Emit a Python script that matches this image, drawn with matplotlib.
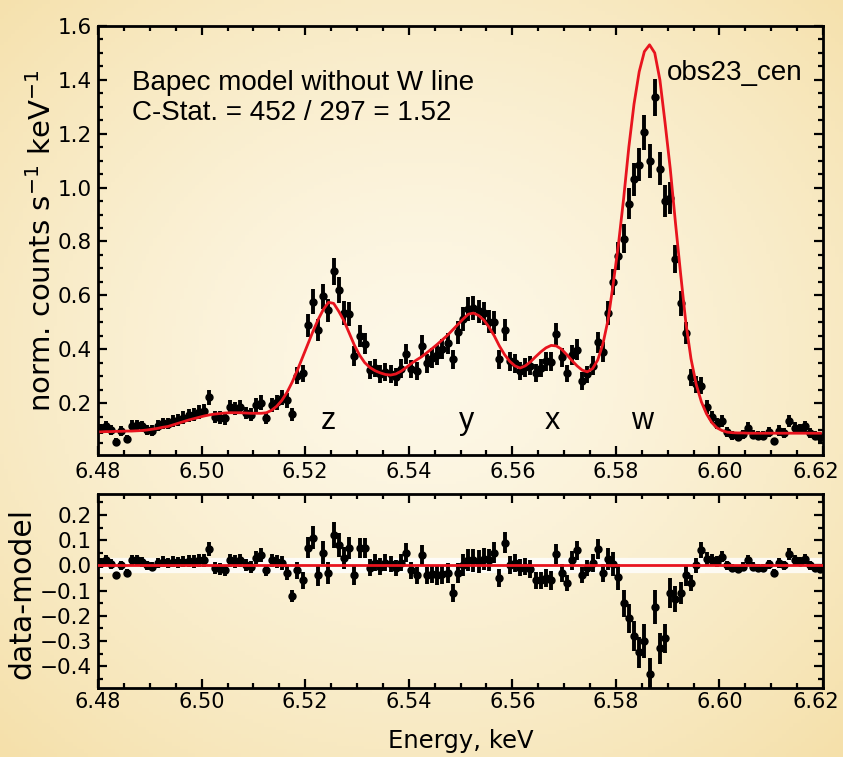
import numpy as np
import matplotlib
matplotlib.use("Agg")
import matplotlib.pyplot as plt
import matplotlib.transforms as mtransforms
from matplotlib.ticker import MultipleLocator

# Energy bin centres (keV), bin width 0.001 keV
energy = np.linspace(6.4805, 6.6195, 140)

# Bapec model (without W line)
model = [0.093, 0.094, 0.094, 0.095, 0.095, 0.096, 0.096, 0.097, 0.098, 0.100,
         0.103, 0.106, 0.110, 0.113, 0.119, 0.125, 0.131, 0.137, 0.142, 0.147,
         0.152, 0.156, 0.159, 0.161, 0.163, 0.164, 0.164, 0.164, 0.163, 0.162,
         0.162, 0.162, 0.164, 0.173, 0.188, 0.210, 0.240, 0.278, 0.322, 0.370,
         0.418, 0.466, 0.510, 0.547, 0.574, 0.570, 0.540, 0.505, 0.460, 0.415,
         0.378, 0.350, 0.332, 0.320, 0.312, 0.306, 0.304, 0.308, 0.318, 0.332,
         0.347, 0.360, 0.372, 0.387, 0.402, 0.418, 0.435, 0.452, 0.472, 0.492,
         0.512, 0.530, 0.534, 0.525, 0.508, 0.482, 0.450, 0.412, 0.380, 0.355,
         0.338, 0.330, 0.338, 0.353, 0.372, 0.390, 0.405, 0.414, 0.412, 0.400,
         0.380, 0.358, 0.338, 0.322, 0.316, 0.328, 0.360, 0.420, 0.510, 0.645,
         0.790, 0.960, 1.150, 1.310, 1.430, 1.505, 1.530, 1.500, 1.400, 1.240,
         1.070, 0.870, 0.680, 0.500, 0.365, 0.270, 0.205, 0.160, 0.128, 0.108,
         0.098, 0.092, 0.090, 0.089, 0.089, 0.088, 0.088, 0.088, 0.088, 0.088,
         0.088, 0.088, 0.088, 0.088, 0.088, 0.088, 0.088, 0.088, 0.088, 0.088]

# residuals (data - model)
resid = [0.010, 0.020, 0.005, -0.040, 0.000, -0.030, 0.020, 0.020, 0.015, 0.000,
         -0.005, 0.010, 0.015, 0.010, 0.015, 0.012, 0.015, 0.018, 0.015, 0.020,
         0.020, 0.065, -0.010, -0.015, -0.020, 0.020, 0.015, 0.020, 0.000, -0.005,
         0.030, 0.040, -0.020, 0.020, 0.015, 0.010, -0.030, -0.120, -0.020, -0.060,
         0.070, 0.110, -0.040, 0.050, -0.030, 0.120, 0.080, 0.030, 0.070, -0.040,
         0.070, 0.070, -0.010, 0.010, -0.005, 0.010, 0.005, -0.010, 0.010, 0.050,
         -0.020, -0.040, 0.040, -0.040, -0.035, -0.040, -0.035, -0.030, -0.110, -0.030,
         0.000, 0.020, 0.020, 0.015, 0.025, 0.020, 0.050, -0.050, 0.090, 0.000,
         0.010, -0.010, -0.005, -0.015, -0.060, -0.060, -0.050, -0.060, 0.045, -0.030,
         -0.070, 0.020, 0.060, -0.040, -0.010, 0.010, 0.065, -0.030, 0.025, 0.005,
         -0.045, -0.150, -0.210, -0.280, -0.345, -0.300, -0.430, -0.165, -0.330, -0.290,
         -0.110, -0.135, -0.110, -0.040, -0.070, 0.000, 0.060, 0.025, 0.020, 0.015,
         0.035, 0.000, -0.010, -0.015, -0.005, 0.020, -0.005, -0.010, -0.010, 0.005,
         -0.030, 0.010, 0.000, 0.045, 0.020, 0.015, 0.025, 0.000, -0.010, -0.015]

# 1-sigma errors of the counts
err = [0.019, 0.020, 0.019, 0.014, 0.018, 0.015, 0.020, 0.021, 0.020, 0.019,
       0.019, 0.020, 0.021, 0.021, 0.022, 0.022, 0.023, 0.024, 0.024, 0.025,
       0.025, 0.028, 0.023, 0.023, 0.023, 0.026, 0.025, 0.026, 0.024, 0.024,
       0.026, 0.027, 0.023, 0.026, 0.027, 0.028, 0.027, 0.024, 0.033, 0.033,
       0.042, 0.046, 0.041, 0.046, 0.044, 0.050, 0.047, 0.044, 0.044, 0.037,
       0.040, 0.039, 0.034, 0.034, 0.033, 0.034, 0.033, 0.033, 0.034, 0.037,
       0.034, 0.034, 0.039, 0.035, 0.036, 0.037, 0.038, 0.039, 0.036, 0.041,
       0.043, 0.044, 0.045, 0.044, 0.044, 0.043, 0.042, 0.036, 0.041, 0.036,
       0.035, 0.034, 0.035, 0.035, 0.034, 0.034, 0.036, 0.036, 0.041, 0.036,
       0.033, 0.037, 0.038, 0.032, 0.033, 0.035, 0.039, 0.037, 0.044, 0.048,
       0.052, 0.054, 0.058, 0.061, 0.062, 0.066, 0.063, 0.069, 0.062, 0.058,
       0.059, 0.051, 0.045, 0.041, 0.033, 0.031, 0.031, 0.026, 0.023, 0.021,
       0.022, 0.018, 0.017, 0.016, 0.017, 0.020, 0.017, 0.017, 0.017, 0.018,
       0.014, 0.019, 0.018, 0.022, 0.020, 0.019, 0.020, 0.018, 0.017, 0.016]

model = np.array(model)
resid = np.array(resid)
counts = model + resid
half_bin = 0.0005

line_names = ["z", "y", "x", "w"]
line_energy = [6.5244, 6.5512, 6.5678, 6.5850]
xtick_vals = [6.48, 6.50, 6.52, 6.54, 6.56, 6.58, 6.60, 6.62]

fig = plt.figure(figsize=(8.43, 7.57), dpi=100)

# cream gradient background
bg = fig.add_axes([0, 0, 1, 1], zorder=-5)
yy, xx = np.mgrid[0:1:200j, 0:1:220j]
r = np.clip(np.sqrt(((xx - 0.5) / 0.72) ** 2 + ((yy - 0.48) / 0.72) ** 2), 0, 1)
c_in = np.array([253, 248, 232]) / 255
c_out = np.array([245, 224, 170]) / 255
img = c_in + (c_out - c_in) * (r[..., None] ** 1.4)
bg.imshow(img, extent=[0, 1, 0, 1], aspect="auto", origin="upper")
bg.axis("off")

ax1 = fig.add_axes([0.1163, 0.3989, 0.8600, 0.5668])
ax2 = fig.add_axes([0.1163, 0.0911, 0.8600, 0.2563])

ebar = dict(fmt="o", color="black", ms=5, elinewidth=2.8, capsize=0, zorder=2)

# upper panel: spectrum + model
ax1.errorbar(energy, counts, yerr=err, xerr=half_bin, **ebar)
ax1.plot(energy, model, color="#e8141e", lw=2, zorder=3)
ax1.set_xlim(6.48, 6.62)
ax1.set_ylim(0.007, 1.6)
ax1.set_yticks([0.2, 0.4, 0.6, 0.8, 1.0, 1.2, 1.4, 1.6])
ax1.yaxis.set_minor_locator(MultipleLocator(0.05))
ax1.set_ylabel(r"norm. counts s$^{-1}$ keV$^{-1}$", fontsize=21)
ax1.yaxis.set_label_coords(-0.057, 0.499)

txt = dict(transform=ax1.transAxes, fontsize=20, family="Liberation Sans", va="baseline")
ax1.text(0.047, 0.851, "Bapec model without W line", **txt)
ax1.text(0.047, 0.781, "C-Stat. = 452 / 297 = 1.52", **txt)
ax1.text(0.972, 0.874, "obs23_cen", ha="right", **txt)
for name, e in zip(line_names, line_energy):
    ax1.text(e, 0.105, name, fontsize=22, family="Liberation Sans",
             ha="center", va="baseline")

# lower panel: residuals
ax2.axhline(0, color="white", lw=11, alpha=0.8, zorder=1)
ax2.errorbar(energy, resid, yerr=err, xerr=half_bin, **ebar)
ax2.axhline(0, color="#e8141e", lw=2, zorder=3)
ax2.set_xlim(6.48, 6.62)
ax2.set_ylim(-0.487, 0.283)
ax2.set_yticks([-0.4, -0.3, -0.2, -0.1, 0.0, 0.1, 0.2])
ax2.yaxis.set_minor_locator(MultipleLocator(0.05))
ax2.set_ylabel("data-model", fontsize=21.5)
ax2.yaxis.set_label_coords(-0.085, 0.485)
ax2.set_xlabel("Energy, keV", fontsize=17.5)
ax2.xaxis.set_label_coords(0.5, -0.212)

for ax in (ax1, ax2):
    ax.set_facecolor("none")
    ax.set_xticks(xtick_vals)
    ax.xaxis.set_minor_locator(MultipleLocator(0.005))
    for s in ax.spines.values():
        s.set_linewidth(2)
    ax.tick_params(which="both", direction="in", top=True, right=True,
                   width=1.6, labelsize=15.5)
    ax.tick_params(axis="x", labelsize=15)
    ax.tick_params(which="major", length=6.5)
    ax.tick_params(which="minor", length=3.5)
    ax.tick_params(axis="y", pad=4.5)
ax1.tick_params(axis="x", pad=5)
ax2.tick_params(axis="x", pad=2.5)

# keep the last energy label inside the figure edge
for ax in (ax1, ax2):
    last = ax.get_xticklabels()[-1]
    last.set_transform(last.get_transform() +
                       mtransforms.ScaledTranslation(-5 / 72, 0, fig.dpi_scale_trans))

fig.savefig("out.png", dpi=100)
